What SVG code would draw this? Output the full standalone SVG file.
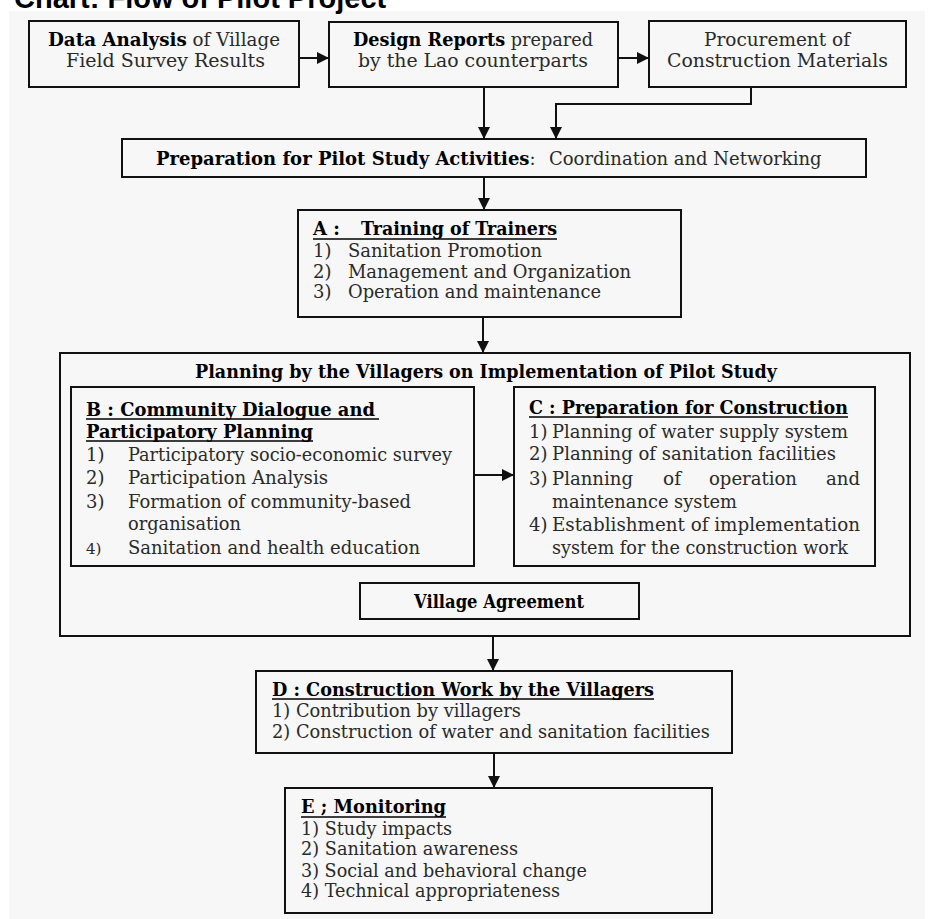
<svg xmlns="http://www.w3.org/2000/svg" width="934" height="919" viewBox="0 0 934 919">
<style>
.bg{fill:#f7f7f7}
.box{fill:none;stroke:#111;stroke-width:2}
.t{font-family:"DejaVu Serif","Liberation Serif",serif;font-size:18px;fill:#2a2a2a}
.b{font-weight:bold;fill:#000}
.ul{stroke:#000;stroke-width:1.6}
.title{font-family:"Liberation Sans",Arial,sans-serif;font-weight:bold;font-size:29px;fill:#000}
.con{fill:none;stroke:#111;stroke-width:2}
</style>
<defs>
<marker id="ah" markerUnits="userSpaceOnUse" viewBox="0 0 10 10" refX="10" refY="5" markerWidth="12" markerHeight="12" orient="auto">
<path d="M0,0 L10,5 L0,10 z" fill="#111"/>
</marker>
</defs>
<rect x="0" y="0" width="934" height="919" fill="#ffffff"/>
<rect class="bg" x="9" y="11" width="916" height="908"/>
<text class="title" x="14" y="8">Chart: Flow of Pilot Project</text>

<g id="connectors">
<path class="con" d="M299,58 L329,58" marker-end="url(#ah)"/>
<path class="con" d="M618,58 L649,58" marker-end="url(#ah)"/>
<path class="con" d="M484,87 L484,139" marker-end="url(#ah)"/>
<path class="con" d="M751,87 L751,104 L556,104 L556,139" marker-end="url(#ah)"/>
<path class="con" d="M484,177 L484,210" marker-end="url(#ah)"/>
<path class="con" d="M483,317 L483,353" marker-end="url(#ah)"/>
<path class="con" d="M474,475 L514,475" marker-end="url(#ah)"/>
<path class="con" d="M493,636 L493,671" marker-end="url(#ah)"/>
<path class="con" d="M494,753 L494,788" marker-end="url(#ah)"/>
</g>

<g id="data-analysis">
<rect class="box" x="29" y="21" width="270" height="66"/>
<text class="t" x="48" y="46" textLength="232" lengthAdjust="spacingAndGlyphs"><tspan class="b">Data Analysis</tspan> of Village</text>
<text class="t" x="66" y="67" textLength="199" lengthAdjust="spacingAndGlyphs">Field Survey Results</text>
</g>

<g id="design-reports">
<rect class="box" x="329" y="22" width="289" height="65"/>
<text class="t" x="353" y="46" textLength="240" lengthAdjust="spacingAndGlyphs"><tspan class="b">Design Reports</tspan> prepared</text>
<text class="t" x="358" y="67" textLength="230" lengthAdjust="spacingAndGlyphs">by the Lao counterparts</text>
</g>

<g id="procurement">
<rect class="box" x="649" y="21" width="257" height="66"/>
<text class="t" x="704" y="46" textLength="146" lengthAdjust="spacingAndGlyphs">Procurement of</text>
<text class="t" x="667" y="67" textLength="221" lengthAdjust="spacingAndGlyphs">Construction Materials</text>
</g>

<g id="preparation">
<rect class="box" x="122" y="139" width="744" height="38"/>
<text class="t" x="156" y="165"><tspan class="b">Preparation for Pilot Study Activities</tspan>:<tspan x="549">Coordination and Networking</tspan></text>
</g>

<g id="training">
<rect class="box" x="298" y="210" width="383" height="107"/>
<text class="t b" x="313" y="235">A :</text>
<text class="t b" x="361" y="235" textLength="196" lengthAdjust="spacingAndGlyphs">Training of Trainers</text>
<line class="ul" x1="313" y1="239" x2="557" y2="239"/>
<text class="t" x="313" y="257">1)</text>
<text class="t" x="348" y="257" textLength="194" lengthAdjust="spacingAndGlyphs">Sanitation Promotion</text>
<text class="t" x="313" y="278">2)</text>
<text class="t" x="348" y="278" textLength="283" lengthAdjust="spacingAndGlyphs">Management and Organization</text>
<text class="t" x="313" y="298">3)</text>
<text class="t" x="348" y="298" textLength="253" lengthAdjust="spacingAndGlyphs">Operation and maintenance</text>
</g>

<g id="planning">
<rect class="box" x="60" y="353" width="850" height="283"/>
<text class="t b" x="195" y="378" textLength="582" lengthAdjust="spacingAndGlyphs">Planning by the Villagers on Implementation of Pilot Study</text>
</g>

<g id="community-dialogue">
<rect class="box" x="71" y="387" width="403" height="179"/>
<text class="t b" x="86" y="416" textLength="289" lengthAdjust="spacingAndGlyphs">B : Community Dialogue and</text>
<line class="ul" x1="86" y1="419" x2="379" y2="419"/>
<text class="t b" x="86" y="438" textLength="227" lengthAdjust="spacingAndGlyphs">Participatory Planning</text>
<line class="ul" x1="86" y1="441" x2="313" y2="441"/>
<text class="t" x="86" y="461">1)</text>
<text class="t" x="128" y="461" textLength="324" lengthAdjust="spacingAndGlyphs">Participatory socio-economic survey</text>
<text class="t" x="86" y="484">2)</text>
<text class="t" x="128" y="484" textLength="200" lengthAdjust="spacingAndGlyphs">Participation Analysis</text>
<text class="t" x="86" y="508">3)</text>
<text class="t" x="128" y="508" textLength="283" lengthAdjust="spacingAndGlyphs">Formation of community-based</text>
<text class="t" x="128" y="530" textLength="113" lengthAdjust="spacingAndGlyphs">organisation</text>
<text class="t" x="86" y="554" style="font-size:15px">4)</text>
<text class="t" x="128" y="554" textLength="292" lengthAdjust="spacingAndGlyphs">Sanitation and health education</text>
</g>

<g id="preparation-construction">
<rect class="box" x="514" y="387" width="361" height="179"/>
<text class="t b" x="529" y="414" textLength="319" lengthAdjust="spacingAndGlyphs">C : Preparation for Construction</text>
<line class="ul" x1="529" y1="417" x2="848" y2="417"/>
<text class="t" x="529" y="438">1)</text>
<text class="t" x="552" y="438" textLength="296" lengthAdjust="spacingAndGlyphs">Planning of water supply system</text>
<text class="t" x="529" y="460">2)</text>
<text class="t" x="552" y="460" textLength="284" lengthAdjust="spacingAndGlyphs">Planning of sanitation facilities</text>
<text class="t" x="529" y="485">3)</text>
<text class="t" x="552" y="485" textLength="81" lengthAdjust="spacingAndGlyphs">Planning</text>
<text class="t" x="663" y="485" textLength="18" lengthAdjust="spacingAndGlyphs">of</text>
<text class="t" x="709" y="485" textLength="88" lengthAdjust="spacingAndGlyphs">operation</text>
<text class="t" x="826" y="485" textLength="34" lengthAdjust="spacingAndGlyphs">and</text>
<text class="t" x="552" y="508" textLength="185" lengthAdjust="spacingAndGlyphs">maintenance system</text>
<text class="t" x="529" y="531">4)</text>
<text class="t" x="552" y="531" textLength="308" lengthAdjust="spacingAndGlyphs">Establishment of implementation</text>
<text class="t" x="552" y="554" textLength="296" lengthAdjust="spacingAndGlyphs">system for the construction work</text>
</g>

<g id="village-agreement">
<rect class="box" x="360" y="583" width="279" height="36"/>
<text class="t b" x="414" y="608" textLength="170" lengthAdjust="spacingAndGlyphs">Village Agreement</text>
</g>

<g id="construction-work">
<rect class="box" x="256" y="671" width="476" height="82"/>
<text class="t b" x="272" y="696" textLength="382" lengthAdjust="spacingAndGlyphs">D : Construction Work by the Villagers</text>
<line class="ul" x1="272" y1="699" x2="654" y2="699"/>
<text class="t" x="272" y="717" textLength="249" lengthAdjust="spacingAndGlyphs">1) Contribution by villagers</text>
<text class="t" x="272" y="738" textLength="438" lengthAdjust="spacingAndGlyphs">2) Construction of water and sanitation facilities</text>
</g>

<g id="monitoring">
<rect class="box" x="285" y="788" width="427" height="125"/>
<text class="t b" x="301" y="813" textLength="145" lengthAdjust="spacingAndGlyphs">E ; Monitoring</text>
<line class="ul" x1="301" y1="817" x2="446" y2="817"/>
<text class="t" x="301" y="835" textLength="151" lengthAdjust="spacingAndGlyphs">1) Study impacts</text>
<text class="t" x="301" y="855" textLength="217" lengthAdjust="spacingAndGlyphs">2) Sanitation awareness</text>
<text class="t" x="301" y="877" textLength="286" lengthAdjust="spacingAndGlyphs">3) Social and behavioral change</text>
<text class="t" x="301" y="897" textLength="259" lengthAdjust="spacingAndGlyphs">4) Technical appropriateness</text>
</g>
</svg>
